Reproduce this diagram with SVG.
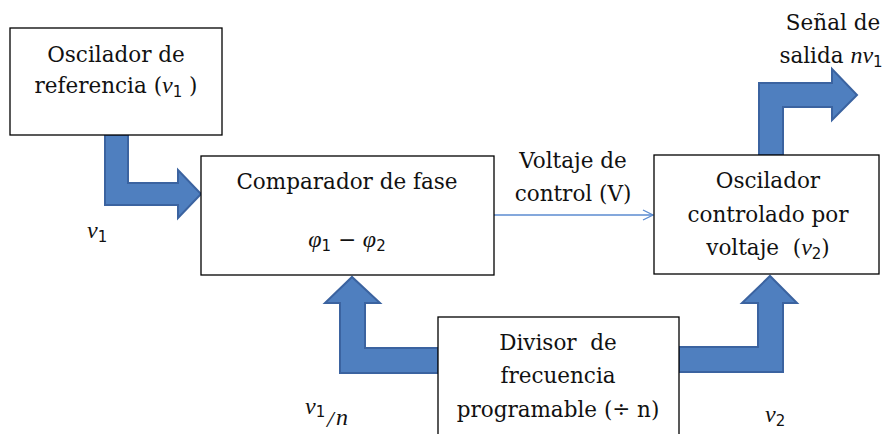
<svg xmlns="http://www.w3.org/2000/svg" width="886" height="434" viewBox="0 0 886 434">
<defs>
<style>
.box{fill:#fff;stroke:#000;stroke-width:1.3}
.t{font-family:"DejaVu Serif","Liberation Serif",serif;font-size:21.5px;fill:#111;text-anchor:middle}
.m{font-family:"Liberation Serif","DejaVu Serif",serif;font-style:italic;font-size:24px;fill:#111}
.s{font-family:"DejaVu Sans","Liberation Sans",sans-serif;font-style:normal;font-size:15px}
.big{fill:#4f7fbf;stroke:#3b63a0;stroke-width:2;stroke-linejoin:miter}
.thin{fill:none;stroke:#5b8bd0;stroke-width:1.3}
</style>
<marker id="open" viewBox="0 0 12 12" refX="11" refY="6" markerWidth="12" markerHeight="12" markerUnits="userSpaceOnUse" orient="auto">
<path d="M1,1 L11,6 L1,11" fill="none" stroke="#5b8bd0" stroke-width="1.3"/>
</marker>
</defs>
<rect width="886" height="434" fill="#fff"/>
<g id="connectors">
<polygon class="big" points="105,135 128,135 128,183 178,183 178,170 201,194 178,218 178,205 105,205"/>
<polygon class="big" points="759,155 759,83 832,83 832,69 857,95 832,120 832,107 783,107 783,155"/>
<polygon class="big" points="438,348 365,348 365,303 380,303 352,277 325,303 340,303 340,373 438,373"/>
<polygon class="big" points="679,347 758,347 758,303 742,303 770,276 797,303 783,303 783,372 679,372"/>
<line class="thin" x1="494" y1="215" x2="653" y2="215" marker-end="url(#open)"/>
</g>
<g id="ref">
<rect class="box" x="10" y="28" width="212" height="107"/>
<text class="t" x="116" y="62">Oscilador de</text>
<text class="t" x="116" y="93" xml:space="preserve">referencia (<tspan class="m" font-size="23">ν</tspan><tspan class="s" dy="4">1</tspan><tspan dy="-4"> )</tspan></text>
</g>
<g id="comp">
<rect class="box" x="201" y="156" width="293" height="119"/>
<text class="t" x="347" y="189">Comparador de fase</text>
<text class="t" x="347" y="247" xml:space="preserve"><tspan class="m" font-size="23">φ</tspan><tspan class="s" dy="4">1</tspan><tspan dy="-4" font-family="DejaVu Sans"> − </tspan><tspan class="m" font-size="23">φ</tspan><tspan class="s" dy="4">2</tspan></text>
</g>
<g id="vco">
<rect class="box" x="654" y="155" width="225" height="119"/>
<text class="t" x="768" y="188">Oscilador</text>
<text class="t" x="768" y="222">controlado por</text>
<text class="t" x="768" y="255" xml:space="preserve">voltaje  (<tspan class="m" font-size="23">ν</tspan><tspan class="s" dy="4">2</tspan><tspan dy="-4">)</tspan></text>
</g>
<g id="div">
<rect class="box" x="438" y="317" width="241" height="130"/>
<text class="t" x="558" y="350" xml:space="preserve">Divisor  de</text>
<text class="t" x="558" y="383">frecuencia</text>
<text class="t" x="558" y="417">programable (÷ n)</text>
</g>
<g id="labels">
<text class="t" x="573" y="168">Voltaje de</text>
<text class="t" x="573" y="201">control (V)</text>
<text class="t" x="833" y="30">Señal de</text>
<text class="t" x="831" y="63" xml:space="preserve">salida <tspan class="m" font-size="23">nν</tspan><tspan class="s" dy="4">1</tspan></text>
<text class="m" x="87" y="238" font-size="23">ν<tspan class="s" dy="4">1</tspan></text>
<text class="m" x="305" y="414" font-size="23">ν<tspan class="s" dy="3">1</tspan></text>
<text class="m" x="327" y="427" font-size="26" font-style="normal" font-family="DejaVu Sans" font-weight="200">/</text>
<text class="m" x="336" y="425" font-size="25">n</text>
<text class="m" x="765" y="422" font-size="23">ν<tspan class="s" dy="4">2</tspan></text>
</g>
</svg>
